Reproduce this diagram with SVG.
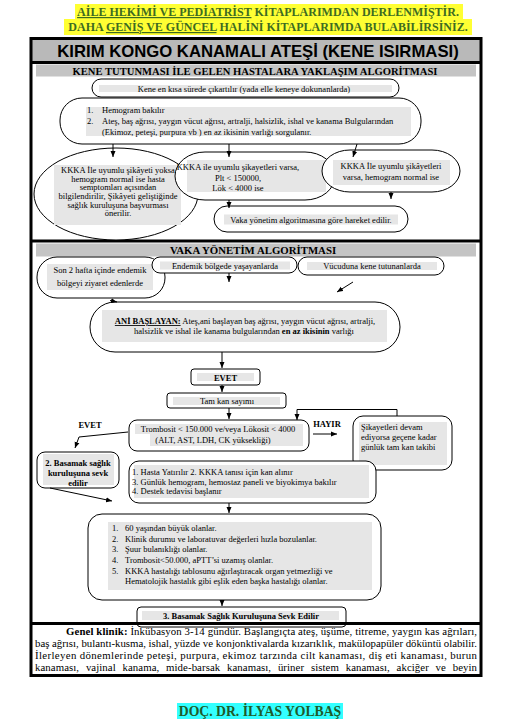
<svg xmlns="http://www.w3.org/2000/svg" width="510" height="721" viewBox="0 0 510 721">
<style>
.n{fill:#fff;stroke:#000;stroke-width:1}
.g{fill:#e6e6e6}
.band{fill:#c4c4c4}
.t{font-family:"Liberation Serif","Times New Roman",serif;font-size:8.5px;fill:#000}
.c{text-anchor:middle}
.b{font-weight:bold}
.sub{font-family:"Liberation Serif","Times New Roman",serif;font-weight:bold;font-size:10.6px;fill:#000;text-anchor:middle}
.cn{stroke:#000;stroke-width:1;fill:none;marker-end:url(#ah)}
.hd{font-family:"Liberation Serif","Times New Roman",serif;font-size:12px;font-weight:bold;fill:#3d6b22;text-anchor:middle}
.p{font-family:"Liberation Serif","Times New Roman",serif;font-size:10.8px;fill:#000}
</style>
<defs>
<marker id="ah" markerWidth="6" markerHeight="6" refX="6" refY="3" orient="auto" markerUnits="userSpaceOnUse"><path d="M0,0.5 L6,3 L0,5.5 Z" fill="#000"/></marker>
</defs>
<rect width="510" height="721" fill="#fff"/>
<!-- header -->
<g id="header">
<rect x="75" y="4" width="388" height="15" fill="#ffff33"/>
<rect x="64" y="19" width="408" height="16" fill="#ffff33"/>
<text class="hd" x="268" y="16"><tspan text-decoration="underline">AİLE HEKİMİ VE PEDİATRİST</tspan> KİTAPLARIMDAN DERLENMİŞTİR.</text>
<text class="hd" x="268" y="31">DAHA <tspan text-decoration="underline">GENİŞ VE GÜNCEL</tspan> HALİNİ KİTAPLARIMDA BULABİLİRSİNİZ.</text>
</g>
<!-- frame -->
<g id="frame">
<rect x="32" y="39.5" width="448" height="22" fill="#b9b9b9"/>
<rect x="31" y="38.5" width="450" height="637" fill="none" stroke="#000" stroke-width="3"/>
<line x1="31" y1="62.5" x2="481" y2="62.5" stroke="#000" stroke-width="3"/>
<line x1="31" y1="241" x2="481" y2="241" stroke="#000" stroke-width="3"/>
<text x="258" y="56.5" text-anchor="middle" font-family="'Liberation Sans',Arial,sans-serif" font-weight="bold" font-size="16.7" fill="#000">KIRIM KONGO KANAMALI ATEŞİ (KENE ISIRMASI)</text>
<rect class="band" x="36" y="64.5" width="440" height="12"/>
<text class="sub" x="255" y="74.5">KENE TUTUNMASI İLE GELEN HASTALARA YAKLAŞIM ALGORİTMASI</text>
<rect class="band" x="36" y="243.5" width="440" height="13"/>
<text class="sub" x="253" y="254" style="font-size:10.8px">VAKA YÖNETİM ALGORİTMASI</text>
</g>
<!-- section 1 nodes -->
<g id="n_kene">
<rect class="n" x="92" y="79" width="307" height="18" rx="9"/>
<rect class="g" x="99" y="85" width="293" height="7"/>
<text class="t c" x="244" y="91.5">Kene en kısa sürede çıkartılır  (yada elle  keneye dokunanlarda)</text>
</g>
<g id="n_hemogram">
<rect class="n" x="60" y="98" width="361" height="46" rx="22"/>
<rect class="g" x="86" y="107" width="325" height="29"/>
<text class="t" x="87" y="113">1.</text><text class="t" x="102" y="113">Hemogram bakılır</text>
<text class="t" x="87" y="124">2.</text><text class="t" x="102" y="124">Ateş, baş ağrısı, yaygın vücut ağrısı, artralji, halsizlik, ishal ve kanama Bulgularından</text>
<text class="t" x="102" y="135">(Ekimoz, peteşi, purpura vb ) en az ikisinin varlığı sorgulanır.</text>
</g>
<g id="n_yoksa">
<ellipse class="n" cx="116" cy="194" rx="82" ry="46"/>
<rect class="g" x="54" y="165" width="127" height="60"/>
<text class="t c" x="118" y="173">KKKA İle uyumlu şikâyeti yoksa</text>
<text class="t c" x="118" y="181.5">hemogram normal ise hasta</text>
<text class="t c" x="118" y="190">semptomları açısından</text>
<text class="t c" x="118" y="199">bilgilendirilir, Şikâyeti geliştiğinde</text>
<text class="t c" x="118" y="207.5">sağlık kuruluşuna başvurması</text>
<text class="t c" x="118" y="216">önerilir.</text>
</g>
<g id="n_plt">
<rect class="n" x="175" y="152" width="160" height="48" rx="30" ry="24"/>
<rect class="g" x="187" y="160" width="139" height="32"/>
<text class="t c" x="238" y="170">KKKA ile uyumlu şikayetleri varsa,</text>
<text class="t c" x="238" y="181">Plt &lt; 150000,</text>
<text class="t c" x="238" y="191">Lök &lt; 4000 ise</text>
</g>
<g id="n_normal">
<rect class="n" x="322" y="150" width="138" height="42" rx="28" ry="21"/>
<rect class="g" x="333" y="160" width="117" height="25"/>
<text class="t c" x="391" y="169">KKKA İle uyumlu şikâyetleri</text>
<text class="t c" x="391" y="180">varsa, hemogram normal ise</text>
</g>
<g id="n_vaka">
<rect class="n" x="214" y="206" width="194" height="26" rx="13"/>
<rect class="g" x="224" y="214.5" width="174" height="10"/>
<text class="t c" x="311" y="223">Vaka yönetim algoritmasına göre hareket edilir.</text>
</g>
<!-- section 2 nodes -->
<g id="n_son2">
<rect class="n" x="37" y="257" width="128" height="41" rx="20"/>
<rect class="g" x="47" y="264" width="106" height="26"/>
<text class="t c" x="100" y="273">Son 2 hafta içinde endemik</text>
<text class="t c" x="100" y="286">bölgeyi ziyaret edenlerde</text>
</g>
<g id="n_endemik">
<rect class="n" x="152" y="257" width="145" height="16" rx="8"/>
<rect class="g" x="160" y="261.5" width="130" height="8"/>
<text class="t c" x="225" y="268.5">Endemik bölgede yaşayanlarda</text>
</g>
<g id="n_vucut">
<rect class="n" x="298" y="257" width="146" height="18" rx="9"/>
<rect class="g" x="307" y="262" width="130" height="8"/>
<text class="t c" x="372" y="269">Vücuduna kene tutunanlarda</text>
</g>
<g id="n_ani">
<rect class="n" x="90" y="302" width="310" height="50" rx="25"/>
<rect class="g" x="102" y="310" width="285" height="32"/>
<text class="t c" x="245" y="324"><tspan class="b" text-decoration="underline">ANİ BAŞLAYAN:</tspan> Ateş,ani başlayan baş ağrısı, yaygın vücut ağrısı, artralji,</text>
<text class="t c" x="244" y="333.5">halsizlik ve ishal ile kanama bulgularından <tspan class="b">en az ikisinin</tspan> varlığı</text>
</g>
<g id="n_evet">
<rect class="n" x="191" y="369" width="69" height="16" rx="3"/>
<rect class="g" x="197" y="373" width="57" height="8"/>
<text class="t c b" x="225.5" y="380.5">EVET</text>
</g>
<g id="n_tamkan">
<rect class="n" x="167" y="393" width="119" height="15" rx="3"/>
<rect class="g" x="173" y="397" width="107" height="8"/>
<text class="t c" x="227" y="404">Tam kan sayımı</text>
</g>
<g id="n_trombosit">
<rect class="n" x="129" y="420" width="180" height="31" rx="8"/>
<rect class="g" x="135" y="424" width="168" height="10"/>
<rect class="g" x="150" y="434" width="153" height="12"/>
<text class="t c" x="218" y="432">Trombosit &lt; 150.000 ve/veya Lökosit &lt; 4000</text>
<text class="t c" x="213" y="443">(ALT, AST, LDH, CK yüksekliği)</text>
</g>
<g id="n_sikayet">
<rect class="n" x="353" y="416" width="99" height="54" rx="10"/>
<rect class="g" x="359" y="422" width="88" height="43"/>
<text class="t" x="361" y="430">Şikayetleri devam</text>
<text class="t" x="361" y="440">ediyorsa geçene kadar</text>
<text class="t" x="361" y="450">günlük tam kan takibi</text>
</g>
<g id="n_basamak2">
<rect class="n" x="37" y="452" width="82" height="36" rx="8"/>
<rect class="g" x="43" y="454" width="71" height="31"/>
<text class="t c b" x="78" y="466">2. Basamak sağlık</text>
<text class="t c b" x="78" y="476">kuruluşuna sevk</text>
<text class="t c b" x="78" y="485.5">edilir</text>
</g>
<g id="n_hasta">
<rect class="n" x="129" y="461" width="247" height="42" rx="10"/>
<rect class="g" x="134" y="465" width="235" height="33"/>
<text class="t" x="132" y="475">1. Hasta Yatırılır  2. KKKA tanısı için kan alınır</text>
<text class="t" x="132" y="484.5">3. Günlük hemogram, hemostaz paneli ve biyokimya bakılır</text>
<text class="t" x="132" y="494">4. Destek tedavisi başlanır</text>
</g>
<g id="n_liste">
<rect class="n" x="88" y="514" width="293" height="86" rx="14"/>
<rect class="g" x="108" y="522" width="264" height="68"/>
<text class="t" x="112" y="531">1.</text><text class="t" x="125" y="531">60 yaşından büyük olanlar.</text>
<text class="t" x="112" y="541.5">2.</text><text class="t" x="125" y="541.5">Klinik durumu ve laboratuvar değerleri hızla bozulanlar.</text>
<text class="t" x="112" y="552">3.</text><text class="t" x="125" y="552">Şuur bulanıklığı olanlar.</text>
<text class="t" x="112" y="562.5">4.</text><text class="t" x="125" y="562.5">Trombosit&lt;50.000,  aPTT’si uzamış olanlar.</text>
<text class="t" x="112" y="573.5">5.</text><text class="t" x="125" y="573.5">KKKA hastalığı tablosunu ağırlaştıracak organ yetmezliği ve</text>
<text class="t" x="125" y="584">Hematolojik hastalık gibi eşlik eden başka hastalığı olanlar.</text>
</g>
<g id="n_basamak3">
<rect class="n" x="137" y="607" width="209" height="20" rx="4"/>
<rect class="g" x="142" y="611" width="197" height="9"/>
<text class="t c b" x="241" y="618.5">3. Basamak Sağlık Kuruluşuna Sevk Edilir</text>
</g>
<line x1="31" y1="623.5" x2="481" y2="623.5" stroke="#000" stroke-width="3"/>
<!-- labels -->
<g id="labels">
<text class="t c b" x="90" y="428">EVET</text>
<text class="t c b" x="327" y="427">HAYIR</text>
</g>
<!-- connectors -->
<g id="connectors">
<line class="cn" x1="113" y1="144" x2="113" y2="157"/>
<line class="cn" x1="229" y1="144" x2="229" y2="157"/>
<line class="cn" x1="357" y1="144" x2="353" y2="157"/>
<line class="cn" x1="229" y1="200" x2="229" y2="208"/>
<line class="cn" x1="391" y1="192" x2="391" y2="199"/>
<line class="cn" x1="229" y1="273" x2="229" y2="282"/>
<line class="cn" x1="353" y1="282" x2="337" y2="292"/>
<line class="cn" x1="110" y1="300.5" x2="117" y2="302"/>
<line class="cn" x1="222" y1="352" x2="222" y2="368"/>
<line class="cn" x1="222" y1="385" x2="222" y2="392"/>
<line class="cn" x1="229" y1="408" x2="229" y2="419"/>
<polyline class="cn" points="397,416 397,409.5 297,409.5 297,420"/>
<line class="cn" x1="313" y1="434" x2="337" y2="434"/>
<polyline class="cn" points="128,432 79,437 75,448"/>
<line class="cn" x1="50" y1="488" x2="112" y2="501"/>
<line class="cn" x1="229" y1="503" x2="229" y2="513"/>
<line class="cn" x1="222" y1="600" x2="222" y2="606"/>
</g>
<!-- general clinic text -->
<g id="genel">
<text class="p" x="66" y="635" textLength="411" lengthAdjust="spacing"><tspan font-weight="bold">Genel klinik:</tspan> İnkübasyon 3-14 gündür. Başlangıçta ateş, üşüme, titreme, yaygın kas ağrıları,</text>
<text class="p" x="35" y="647" textLength="442" lengthAdjust="spacing">baş ağrısı, bulantı-kusma, ishal, yüzde ve konjonktivalarda kızarıklık, makülopapüler döküntü olabilir.</text>
<text class="p" x="35" y="659" textLength="442" lengthAdjust="spacing">İlerleyen dönemlerinde peteşi, purpura, ekimoz tarzında cilt kanaması, diş eti kanaması, burun</text>
<text class="p" x="35" y="671" textLength="442" lengthAdjust="spacing" word-spacing="4">kanaması, vajinal kanama, mide-barsak kanaması, üriner sistem kanaması, akciğer ve beyin</text>
</g>
<g id="author">
<rect x="177" y="703" width="166" height="16" fill="#33ffff"/>
<text x="260" y="716" text-anchor="middle" font-family="'Liberation Serif','Times New Roman',serif" font-weight="bold" font-size="13.7" fill="#1e5b2a">DOÇ. DR. İLYAS YOLBAŞ</text>
</g>
</svg>
